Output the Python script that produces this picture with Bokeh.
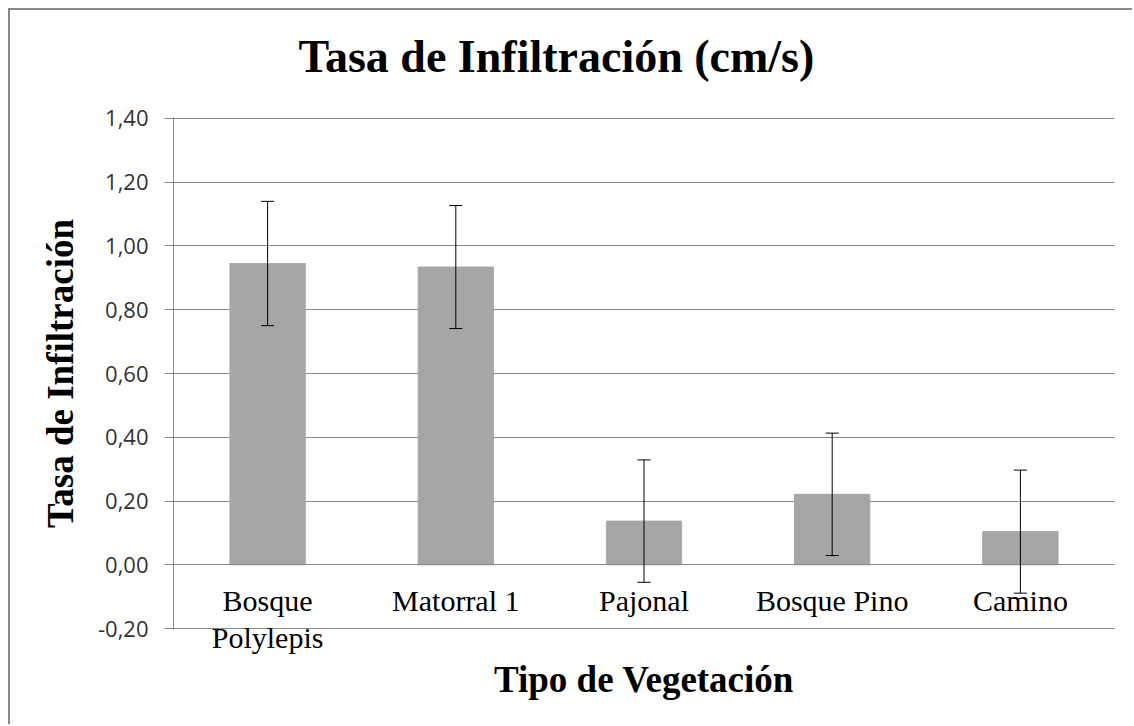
from bokeh.plotting import figure
from bokeh.models import (ColumnDataSource, FactorRange, Range1d, FixedTicker,
                          CustomJSTickFormatter, Whisker, TeeHead, Title, CategoricalAxis)
from bokeh.embed import file_html
from bokeh.resources import INLINE

# ---- data ----
categories = ["Bosque Polylepis", "Matorral 1", "Pajonal", "Bosque Pino", "Camino"]
label_line1 = ["Bosque", "Matorral 1", "Pajonal", "Bosque Pino", "Camino"]
label_line2 = ["Polylepis", "", "", "", ""]
means = [0.945, 0.934, 0.137, 0.221, 0.104]
errors = [0.195, 0.193, 0.192, 0.192, 0.193]
y_ticks = [-0.2, 0.0, 0.2, 0.4, 0.6, 0.8, 1.0, 1.2, 1.4]

title_text = "Tasa de Infiltración (cm/s)"
x_title = "Tipo de Vegetación"
y_title = "Tasa de Infiltración"

GRID = "#898989"
SERIF = "Liberation Serif"

src = ColumnDataSource(dict(
    cat=categories,
    mean=means,
    upper=[m + e for m, e in zip(means, errors)],
    lower=[m - e for m, e in zip(means, errors)],
))

eps = 0.003
p = figure(
    x_range=FactorRange(*categories, range_padding=0),
    y_range=Range1d(y_ticks[0] - eps, y_ticks[-1] + eps),
    width=1124, height=716,
    output_backend="svg", toolbar_location=None,
    min_border_left=163, min_border_right=20,
    min_border_top=107, min_border_bottom=97,
    background_fill_color="white", border_fill_color="white",
    outline_line_color=None,
)
p.styles = {"margin-left": "8px", "margin-top": "8px",
            "border-left": f"2px solid {GRID}", "border-top": f"2px solid {GRID}"}

p.vbar(x="cat", top="mean", bottom=0, width=0.4, source=src,
       fill_color="#A6A6A6", line_color="#A6A6A6")

w = Whisker(base="cat", upper="upper", lower="lower", source=src,
            line_color="black", line_width=1, level="annotation",
            upper_head=TeeHead(size=13, line_color="black", line_width=1),
            lower_head=TeeHead(size=13, line_color="black", line_width=1))
p.add_layout(w)

# title (with an empty spacer between it and the plot area)
p.title.text = title_text
p.title.text_font = SERIF
p.title.text_font_style = "bold"
p.title.text_font_size = "46px"
p.title.text_color = "black"
p.title.align = "left"
p.title.offset = 125
p.title.standoff = 0
p.add_layout(Title(text=" ", text_font_size="10px", standoff=23), "above")

# y axis
p.yaxis.ticker = FixedTicker(ticks=y_ticks)
p.yaxis.formatter = CustomJSTickFormatter(code="return tick.toFixed(2).replace('.', ',');")
p.yaxis.major_label_text_font = "Open Sans"
p.yaxis.major_label_text_font_size = "22px"
p.yaxis.major_label_text_color = "#333333"
p.yaxis.axis_line_color = GRID
p.yaxis.major_tick_line_color = GRID
p.yaxis.major_tick_out = 9
p.yaxis.major_tick_in = 0
p.yaxis.minor_tick_line_color = None
p.yaxis.major_label_standoff = 16
p.yaxis.axis_label = y_title
p.yaxis.axis_label_text_font = SERIF
p.yaxis.axis_label_text_font_style = "bold"
p.yaxis.axis_label_text_font_size = "37px"
p.yaxis.axis_label_text_color = "black"
p.yaxis.axis_label_standoff = 14

label_js = "const i = names.indexOf(tick); return i < 0 ? tick : lines[i];"

# x axis at y = 0 (first line of the category names)
xa = p.below[0]
xa.fixed_location = 0
xa.axis_line_color = GRID
xa.major_tick_line_color = None
xa.minor_tick_line_color = None
xa.major_label_text_font = SERIF
xa.major_label_text_font_size = "30px"
xa.major_label_text_color = "black"
xa.major_label_standoff = 13
xa.formatter = CustomJSTickFormatter(args=dict(names=categories, lines=label_line1),
                                     code=label_js)

# second line of the category names
xa2 = CategoricalAxis(
    formatter=CustomJSTickFormatter(args=dict(names=categories, lines=label_line2),
                                    code=label_js),
    axis_line_color=None, major_tick_line_color=None, minor_tick_line_color=None,
    major_label_text_font=SERIF, major_label_text_font_size="30px",
    major_label_text_color="black", major_label_standoff=-15,
)
p.add_layout(xa2, "below")

p.add_layout(Title(text=x_title, align="center", text_font=SERIF,
                   text_font_style="bold", text_font_size="37px",
                   text_color="black", standoff=0), "below")

p.xgrid.grid_line_color = None
p.ygrid.grid_line_color = GRID
p.ygrid.grid_line_width = 1

open("out.html", "w").write(file_html(p, INLINE))
